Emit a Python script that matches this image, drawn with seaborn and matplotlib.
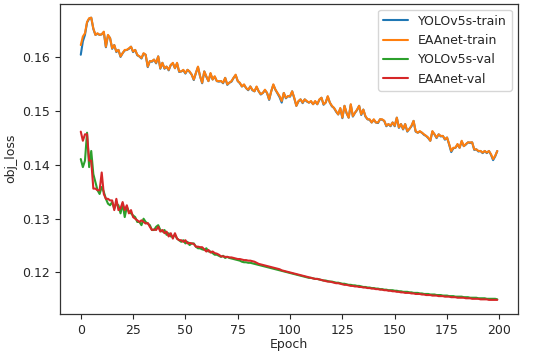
import pandas as pd
import seaborn as sns
import matplotlib.pyplot as plt

# obj_loss per epoch
eaanet_train = [
    0.1623, 0.1639, 0.1645, 0.1666, 0.1673, 0.1674, 0.1654, 0.1642, 0.1645, 0.1642,
    0.1643, 0.1648, 0.1620, 0.1642, 0.1636, 0.1617, 0.1623, 0.1611, 0.1614, 0.1602,
    0.1608, 0.1614, 0.1614, 0.1617, 0.1620, 0.1611, 0.1614, 0.1605, 0.1602, 0.1599,
    0.1608, 0.1605, 0.1583, 0.1593, 0.1593, 0.1596, 0.1590, 0.1602, 0.1580, 0.1590,
    0.1580, 0.1583, 0.1577, 0.1586, 0.1590, 0.1580, 0.1590, 0.1574, 0.1574, 0.1577,
    0.1571, 0.1577, 0.1574, 0.1568, 0.1559, 0.1571, 0.1583, 0.1565, 0.1553, 0.1574,
    0.1565, 0.1556, 0.1571, 0.1559, 0.1565, 0.1556, 0.1556, 0.1556, 0.1553, 0.1562,
    0.1550, 0.1553, 0.1556, 0.1562, 0.1568, 0.1556, 0.1553, 0.1546, 0.1550, 0.1543,
    0.1540, 0.1546, 0.1540, 0.1537, 0.1546, 0.1537, 0.1532, 0.1534, 0.1540, 0.1534,
    0.1522, 0.1537, 0.1550, 0.1540, 0.1534, 0.1528, 0.1519, 0.1534, 0.1525, 0.1528,
    0.1528, 0.1537, 0.1525, 0.1510, 0.1519, 0.1522, 0.1516, 0.1522, 0.1519, 0.1516,
    0.1519, 0.1513, 0.1519, 0.1513, 0.1522, 0.1525, 0.1513, 0.1516, 0.1528, 0.1516,
    0.1510, 0.1506, 0.1500, 0.1494, 0.1506, 0.1488, 0.1510, 0.1497, 0.1488, 0.1513,
    0.1491, 0.1497, 0.1503, 0.1510, 0.1494, 0.1503, 0.1491, 0.1485, 0.1485, 0.1479,
    0.1485, 0.1479, 0.1479, 0.1485, 0.1485, 0.1482, 0.1473, 0.1476, 0.1473, 0.1479,
    0.1473, 0.1488, 0.1470, 0.1476, 0.1467, 0.1476, 0.1463, 0.1467, 0.1473, 0.1482,
    0.1463, 0.1460, 0.1463, 0.1460, 0.1457, 0.1454, 0.1451, 0.1445, 0.1463, 0.1457,
    0.1451, 0.1457, 0.1454, 0.1454, 0.1448, 0.1451, 0.1439, 0.1426, 0.1432, 0.1432,
    0.1439, 0.1432, 0.1445, 0.1435, 0.1439, 0.1442, 0.1442, 0.1442, 0.1429, 0.1429,
    0.1426, 0.1426, 0.1423, 0.1426, 0.1423, 0.1426, 0.1420, 0.1411, 0.1417, 0.1426,
]

yolo_train = [
    0.1605, 0.1630, 0.1642, 0.1665, 0.1672, 0.1674, 0.1653, 0.1642, 0.1644, 0.1642,
    0.1643, 0.1647, 0.1619, 0.1641, 0.1636, 0.1616, 0.1623, 0.1610, 0.1614, 0.1601,
    0.1608, 0.1613, 0.1614, 0.1616, 0.1620, 0.1610, 0.1614, 0.1604, 0.1602, 0.1598,
    0.1607, 0.1605, 0.1582, 0.1593, 0.1592, 0.1596, 0.1589, 0.1602, 0.1579, 0.1590,
    0.1579, 0.1583, 0.1576, 0.1586, 0.1589, 0.1580, 0.1589, 0.1573, 0.1574, 0.1576,
    0.1570, 0.1577, 0.1573, 0.1568, 0.1558, 0.1571, 0.1582, 0.1565, 0.1552, 0.1574,
    0.1564, 0.1556, 0.1570, 0.1559, 0.1564, 0.1556, 0.1555, 0.1556, 0.1552, 0.1562,
    0.1549, 0.1553, 0.1555, 0.1562, 0.1567, 0.1556, 0.1552, 0.1546, 0.1549, 0.1543,
    0.1539, 0.1546, 0.1539, 0.1537, 0.1545, 0.1537, 0.1531, 0.1534, 0.1539, 0.1534,
    0.1521, 0.1537, 0.1549, 0.1540, 0.1533, 0.1526, 0.1516, 0.1534, 0.1524, 0.1528,
    0.1527, 0.1537, 0.1524, 0.1510, 0.1518, 0.1522, 0.1515, 0.1522, 0.1518, 0.1516,
    0.1518, 0.1513, 0.1518, 0.1513, 0.1521, 0.1525, 0.1512, 0.1516, 0.1527, 0.1516,
    0.1509, 0.1506, 0.1499, 0.1494, 0.1505, 0.1487, 0.1510, 0.1496, 0.1488, 0.1512,
    0.1490, 0.1497, 0.1502, 0.1510, 0.1493, 0.1503, 0.1490, 0.1485, 0.1484, 0.1479,
    0.1484, 0.1479, 0.1478, 0.1485, 0.1484, 0.1482, 0.1472, 0.1476, 0.1472, 0.1479,
    0.1472, 0.1488, 0.1469, 0.1476, 0.1466, 0.1476, 0.1462, 0.1467, 0.1472, 0.1482,
    0.1462, 0.1460, 0.1462, 0.1460, 0.1456, 0.1454, 0.1450, 0.1445, 0.1462, 0.1457,
    0.1450, 0.1457, 0.1453, 0.1454, 0.1447, 0.1451, 0.1438, 0.1424, 0.1431, 0.1432,
    0.1438, 0.1432, 0.1444, 0.1435, 0.1438, 0.1442, 0.1441, 0.1442, 0.1428, 0.1429,
    0.1425, 0.1426, 0.1422, 0.1426, 0.1422, 0.1426, 0.1419, 0.1409, 0.1416, 0.1426,
]

yolo_val = [
    0.1411, 0.1396, 0.1408, 0.1460, 0.1396, 0.1426, 0.1383, 0.1368, 0.1353, 0.1346,
    0.1359, 0.1350, 0.1337, 0.1328, 0.1325, 0.1331, 0.1319, 0.1328, 0.1325, 0.1310,
    0.1328, 0.1303, 0.1322, 0.1313, 0.1310, 0.1306, 0.1303, 0.1294, 0.1294, 0.1288,
    0.1300, 0.1294, 0.1291, 0.1288, 0.1279, 0.1279, 0.1285, 0.1288, 0.1279, 0.1276,
    0.1279, 0.1270, 0.1273, 0.1267, 0.1267, 0.1270, 0.1263, 0.1260, 0.1257, 0.1260,
    0.1254, 0.1257, 0.1251, 0.1254, 0.1254, 0.1248, 0.1245, 0.1245, 0.1243, 0.1242,
    0.1245, 0.1239, 0.1239, 0.1236, 0.1233, 0.1233, 0.1231, 0.1229, 0.1231, 0.1227,
    0.1229, 0.1227, 0.1226, 0.1225, 0.1224, 0.1223, 0.1222, 0.1220, 0.1219, 0.1219,
    0.1218, 0.1218, 0.1217, 0.1216, 0.1215, 0.1214, 0.1213, 0.1212, 0.1211, 0.1210,
    0.1209, 0.1208, 0.1207, 0.1206, 0.1205, 0.1204, 0.1203, 0.1202, 0.1201, 0.1200,
    0.1199, 0.1198, 0.1197, 0.1196, 0.1195, 0.1194, 0.1193, 0.1192, 0.1191, 0.1190,
    0.1190, 0.1189, 0.1188, 0.1188, 0.1187, 0.1186, 0.1185, 0.1185, 0.1184, 0.1183,
    0.1183, 0.1182, 0.1181, 0.1181, 0.1180, 0.1179, 0.1179, 0.1178, 0.1177, 0.1177,
    0.1176, 0.1176, 0.1175, 0.1175, 0.1174, 0.1173, 0.1173, 0.1172, 0.1172, 0.1171,
    0.1171, 0.1170, 0.1170, 0.1169, 0.1169, 0.1168, 0.1168, 0.1167, 0.1167, 0.1167,
    0.1166, 0.1166, 0.1165, 0.1165, 0.1164, 0.1164, 0.1164, 0.1163, 0.1163, 0.1162,
    0.1162, 0.1162, 0.1161, 0.1161, 0.1160, 0.1160, 0.1160, 0.1159, 0.1159, 0.1159,
    0.1158, 0.1158, 0.1158, 0.1157, 0.1157, 0.1157, 0.1156, 0.1156, 0.1156, 0.1155,
    0.1155, 0.1155, 0.1155, 0.1154, 0.1154, 0.1154, 0.1153, 0.1153, 0.1153, 0.1153,
    0.1152, 0.1152, 0.1152, 0.1152, 0.1151, 0.1151, 0.1151, 0.1151, 0.1151, 0.1150,
]

eaanet_val = [
    0.1462, 0.1445, 0.1457, 0.1457, 0.1408, 0.1408, 0.1356, 0.1356, 0.1353, 0.1353,
    0.1386, 0.1346, 0.1337, 0.1337, 0.1334, 0.1334, 0.1316, 0.1337, 0.1316, 0.1319,
    0.1331, 0.1316, 0.1325, 0.1310, 0.1316, 0.1303, 0.1300, 0.1297, 0.1294, 0.1297,
    0.1294, 0.1291, 0.1292, 0.1285, 0.1279, 0.1280, 0.1279, 0.1285, 0.1276, 0.1279,
    0.1273, 0.1276, 0.1267, 0.1273, 0.1263, 0.1273, 0.1263, 0.1260, 0.1260, 0.1257,
    0.1260, 0.1254, 0.1255, 0.1254, 0.1253, 0.1248, 0.1248, 0.1247, 0.1247, 0.1243,
    0.1239, 0.1242, 0.1237, 0.1239, 0.1236, 0.1235, 0.1233, 0.1230, 0.1230, 0.1229,
    0.1229, 0.1228, 0.1228, 0.1227, 0.1226, 0.1225, 0.1225, 0.1224, 0.1223, 0.1223,
    0.1222, 0.1222, 0.1221, 0.1220, 0.1218, 0.1216, 0.1215, 0.1214, 0.1213, 0.1212,
    0.1211, 0.1210, 0.1209, 0.1208, 0.1207, 0.1206, 0.1204, 0.1203, 0.1202, 0.1201,
    0.1200, 0.1199, 0.1198, 0.1197, 0.1196, 0.1195, 0.1194, 0.1193, 0.1192, 0.1191,
    0.1190, 0.1189, 0.1188, 0.1188, 0.1187, 0.1186, 0.1185, 0.1184, 0.1183, 0.1183,
    0.1182, 0.1181, 0.1180, 0.1180, 0.1179, 0.1178, 0.1177, 0.1177, 0.1176, 0.1175,
    0.1175, 0.1174, 0.1174, 0.1173, 0.1173, 0.1172, 0.1172, 0.1171, 0.1171, 0.1170,
    0.1170, 0.1169, 0.1169, 0.1168, 0.1168, 0.1167, 0.1167, 0.1166, 0.1166, 0.1165,
    0.1165, 0.1164, 0.1164, 0.1163, 0.1163, 0.1162, 0.1162, 0.1162, 0.1161, 0.1161,
    0.1160, 0.1160, 0.1160, 0.1159, 0.1159, 0.1158, 0.1158, 0.1158, 0.1157, 0.1157,
    0.1157, 0.1156, 0.1156, 0.1156, 0.1155, 0.1155, 0.1155, 0.1154, 0.1154, 0.1154,
    0.1153, 0.1153, 0.1153, 0.1153, 0.1152, 0.1152, 0.1152, 0.1151, 0.1151, 0.1151,
    0.1151, 0.1150, 0.1150, 0.1150, 0.1150, 0.1149, 0.1149, 0.1149, 0.1149, 0.1149,
]

series_names = ['YOLOv5s-train', 'EAAnet-train', 'YOLOv5s-val', 'EAAnet-val']
series_colors = ['#1f77b4', '#ff7f0e', '#2ca02c', '#d62728']

frames = []
for name, values in zip(series_names, [yolo_train, eaanet_train, yolo_val, eaanet_val]):
    frames.append(pd.DataFrame({'Epoch': range(len(values)), 'obj_loss': values, 'series': name}))
df = pd.concat(frames, ignore_index=True)

sns.set_style('ticks')
plt.rcParams['font.family'] = ['DejaVu Sans']
plt.rcParams['font.size'] = 9

fig = plt.figure(figsize=(5.5, 3.56), dpi=100)
ax = fig.add_axes([0.109, 0.118, 0.833, 0.872])
sns.lineplot(data=df, x='Epoch', y='obj_loss', hue='series', hue_order=series_names,
             palette=series_colors, linewidth=1.5, ax=ax)

ax.set_xticks([0, 25, 50, 75, 100, 125, 150, 175, 200])
ax.set_yticks([0.12, 0.13, 0.14, 0.15, 0.16])
ax.tick_params(labelsize=9)
ax.set_xlabel('Epoch', fontsize=9, labelpad=1)
ax.set_ylabel('obj_loss', fontsize=9)
for s in ax.spines.values():
    s.set_color('#333333')
    s.set_linewidth(0.9)
sns.move_legend(ax, 'upper right', title=None, fontsize=9, frameon=True)

fig.savefig('out.png', dpi=100)
